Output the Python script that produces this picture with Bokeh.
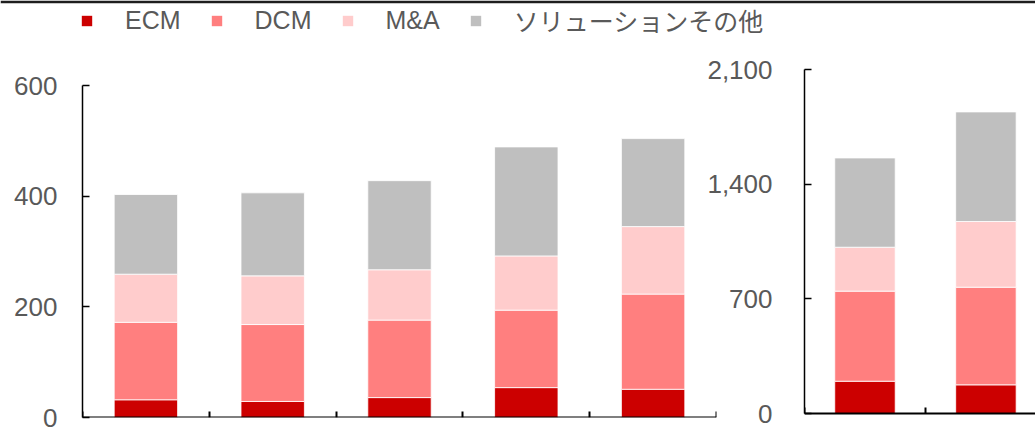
from bokeh.plotting import figure
from bokeh.models import Range1d, FixedTicker, NumeralTickFormatter, Legend, LegendItem
from bokeh.layouts import row, column
from bokeh.embed import file_html
from bokeh.resources import INLINE
import numpy as np

# ---- data ----
series = ["ECM", "DCM", "M&A", "ソリューションその他"]
colors = ["#CC0000", "#FF7F7F", "#FFCCCC", "#BFBFBF"]

left_ecm = [32, 29, 36, 54, 51]
left_dcm = [140, 139, 140, 140, 172]
left_ma = [87, 88, 91, 98, 122]
left_other = [144, 150, 161, 197, 159]

right_ecm = [197, 175]
right_dcm = [550, 596]
right_ma = [268, 401]
right_other = [545, 669]

left_yticks = [0, 200, 400, 600]
right_yticks = [0, 700, 1400, 2100]

FONT = "'Liberation Sans', 'Noto Sans CJK JP'"
TXT = "#595959"

# shared frame: top at page y=69, bottom at y=417
FRAME_TOP, FRAME_BOTTOM = 69, 417
LEFT_TOP_PX, RIGHT_ZERO_PX = 85, 413


def style(p, yticks, standoff, n):
    p.grid.visible = False
    p.outline_line_color = None
    ya = p.yaxis[0]
    ya.ticker = FixedTicker(ticks=yticks)
    ya.bounds = (yticks[0], yticks[-1])
    ya.major_tick_in = 7
    ya.major_tick_out = 0
    ya.minor_tick_line_color = None
    ya.axis_line_color = "black"
    ya.axis_line_width = 1.5
    ya.major_tick_line_color = "black"
    ya.major_tick_line_width = 1.5
    ya.major_label_text_font = FONT
    ya.major_label_text_font_size = "26px"
    ya.major_label_text_color = TXT
    ya.major_label_standoff = standoff
    xa = p.xaxis[0]
    xa.ticker = FixedTicker(ticks=list(range(n + 1)))
    xa.fixed_location = 0
    xa.major_tick_in = 6
    xa.major_tick_out = 0
    xa.minor_tick_line_color = None
    xa.axis_line_color = "black"
    xa.axis_line_width = 2
    xa.major_tick_line_color = "black"
    xa.major_tick_line_width = 2
    xa.major_label_text_font_size = "1px"
    xa.major_label_standoff = 0
    xa.major_label_overrides = {i: "" for i in range(n + 1)}
    xa.axis_label_text_font_size = "1px"
    xa.axis_label_standoff = 0


# ---- legend strip (with the top rule) ----
lf = figure(width=1035, height=40, x_range=Range1d(0, 1), y_range=Range1d(0, 1),
            x_axis_type=None, y_axis_type=None, output_backend="svg", toolbar_location=None,
            min_border_top=3, min_border_left=0, min_border_right=0, min_border_bottom=0,
            border_fill_color="#1e1e1e", background_fill_color="white")
lf.grid.visible = False
lf.outline_line_color = None
dummies = [lf.vbar(x=[np.nan], top=[np.nan], width=0.5, fill_color=c, line_color=None)
           for c in colors]
legend = Legend(items=[LegendItem(label=s, renderers=[r]) for s, r in zip(series, dummies)],
                location=(80, 2), orientation="horizontal",
                glyph_width=13, glyph_height=13, label_standoff=32, spacing=29,
                padding=0, margin=0, border_line_color=None, background_fill_alpha=0,
                label_text_font=FONT, label_text_font_size="25px", label_text_color=TXT)
lf.add_layout(legend)

H = 387
top_border = FRAME_TOP - 40
bottom_border = 427 - FRAME_BOTTOM

# ---- left panel ----
nl = len(left_ecm)
left_src = dict(x=np.arange(nl) + 0.5, ECM=left_ecm, DCM=left_dcm,
                MA=left_ma, OTHER=left_other)
left_top = left_yticks[-1] * (FRAME_BOTTOM - FRAME_TOP) / (FRAME_BOTTOM - LEFT_TOP_PX)
pl = figure(width=717, height=H, x_range=Range1d(0, nl), y_range=Range1d(0, left_top),
            output_backend="svg", toolbar_location=None,
            min_border_left=82, min_border_right=1, min_border_top=top_border,
            min_border_bottom=bottom_border)
pl.vbar_stack(["ECM", "DCM", "MA", "OTHER"], x="x", width=0.5, source=left_src,
              fill_color=colors, line_color="white", line_width=0.8)
style(pl, left_yticks, 25, nl)

# ---- right panel ----
nr = len(right_ecm)
right_src = dict(x=np.arange(nr) + 0.5, ECM=right_ecm, DCM=right_dcm,
                 MA=right_ma, OTHER=right_other)
right_bottom = -right_yticks[-1] * (FRAME_BOTTOM - RIGHT_ZERO_PX) / (RIGHT_ZERO_PX - FRAME_TOP)
pr = figure(width=345, height=H, x_range=Range1d(0, 1.91),
            y_range=Range1d(right_bottom, right_yticks[-1]),
            output_backend="svg", toolbar_location=None,
            min_border_left=114, min_border_right=0, min_border_top=top_border,
            min_border_bottom=bottom_border,
            border_fill_alpha=0, background_fill_alpha=0,
            styles={"margin-left": "-27px"})
pr.vbar_stack(["ECM", "DCM", "MA", "OTHER"], x="x", width=0.5, source=right_src,
              fill_color=colors, line_color="white", line_width=0.8)
style(pr, right_yticks, 32, nr)
pr.yaxis[0].formatter = NumeralTickFormatter(format="0,0")

layout = column(lf, row(pl, pr, spacing=0), spacing=0)

open("out.html", "w").write(file_html(layout, INLINE))
